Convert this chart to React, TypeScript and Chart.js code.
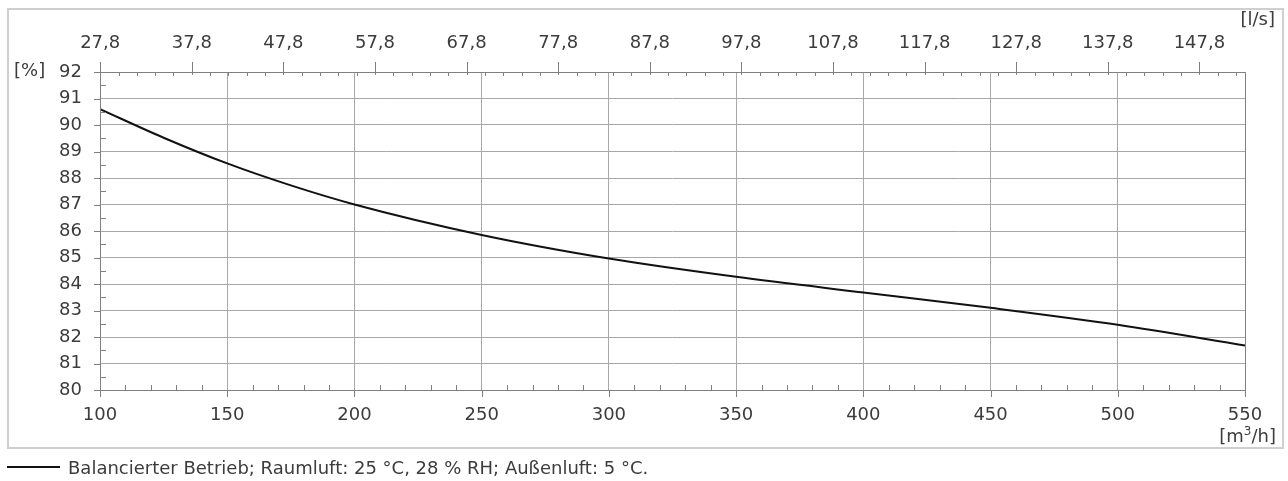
import React, { useEffect, useRef } from "react";
import { Chart, registerables } from "chart.js";

Chart.register(...registerables);

// Data
const flowM3h = [100, 125, 150, 175, 200, 250, 300, 350, 400, 450, 500, 550];
const efficiency = [90.6, 89.52, 88.55, 87.72, 87.0, 85.85, 84.96, 84.27, 83.68, 83.1, 82.46, 81.68];
const xTicks = [100, 150, 200, 250, 300, 350, 400, 450, 500, 550];
const yTicks = [80, 81, 82, 83, 84, 85, 86, 87, 88, 89, 90, 91, 92];
const topTicks = [27.8, 37.8, 47.8, 57.8, 67.8, 77.8, 87.8, 97.8, 107.8, 117.8, 127.8, 137.8, 147.8];
const legendLabel = "Balancierter Betrieb; Raumluft: 25 °C, 28 % RH; Außenluft: 5 °C.";

const FONT = "'DejaVu Sans', 'Open Sans', sans-serif";
const TEXT = "#3c3c3c";

const tickPlugin = {
  id: "customTicks",
  afterDraw(chart: any) {
    const ctx = chart.ctx;
    const { left, right, top, bottom } = chart.chartArea;
    const xs = chart.scales.x;
    const ys = chart.scales.y;
    const x2 = chart.scales.x2;
    const r = (v: number) => Math.round(v) + 0.5;
    ctx.save();
    ctx.strokeStyle = "#808080";
    ctx.lineWidth = 1;
    ctx.beginPath();
    ctx.rect(r(left), r(top), Math.round(right) - Math.round(left), Math.round(bottom) - Math.round(top));
    xTicks.forEach((v) => {
      const p = r(xs.getPixelForValue(v));
      ctx.moveTo(p, bottom);
      ctx.lineTo(p, bottom + 7);
    });
    for (let v = 110; v < 550; v += 10) {
      if (v % 50 === 0) continue;
      const p = r(xs.getPixelForValue(v));
      ctx.moveTo(p, bottom - 5);
      ctx.lineTo(p, bottom);
    }
    yTicks.forEach((v) => {
      const p = r(ys.getPixelForValue(v));
      ctx.moveTo(left - 6, p);
      ctx.lineTo(left, p);
    });
    for (let v = 80.5; v < 92; v += 1) {
      const p = r(ys.getPixelForValue(v));
      ctx.moveTo(left, p);
      ctx.lineTo(left + 6, p);
    }
    topTicks.forEach((v) => {
      const p = r(x2.getPixelForValue(v));
      ctx.moveTo(p, top - 10);
      ctx.lineTo(p, top + 3);
    });
    for (let i = 0; i < 70; i++) {
      const v = 27.8 + i * 2;
      if (v > x2.max) break;
      if (i % 5 === 0) continue;
      const p = r(x2.getPixelForValue(v));
      ctx.moveTo(p, top);
      ctx.lineTo(p, top + 4);
    }
    ctx.stroke();
    ctx.restore();
  },
};

export default function App() {
  const ref = useRef<HTMLCanvasElement>(null);

  useEffect(() => {
    if (!ref.current) return;
    const chart = new Chart(ref.current, {
      type: "line",
      data: {
        datasets: [
          {
            label: legendLabel,
            data: flowM3h.map((x, i) => ({ x, y: efficiency[i] })),
            borderColor: "#111",
            borderWidth: 2,
            pointRadius: 0,
            fill: false,
            cubicInterpolationMode: "monotone",
          },
        ],
      },
      options: {
        animation: false,
        responsive: false,
        devicePixelRatio: 1,
        layout: { padding: { left: 0, right: 43, top: 0, bottom: 0 } },
        plugins: { legend: { display: false }, tooltip: { enabled: false } },
        scales: {
          x: {
            type: "linear",
            position: "bottom",
            min: 100,
            max: 550,
            afterBuildTicks: (s: any) => {
              s.ticks = xTicks.map((v) => ({ value: v }));
            },
            afterFit: (s: any) => {
              s.height = 91;
            },
            grid: { color: "#a8a8a8", drawTicks: false, lineWidth: 1 },
            border: { display: false },
            ticks: {
              padding: 15,
              color: TEXT,
              font: { family: FONT, size: 18 },
              maxRotation: 0,
              autoSkip: false,
            },
          },
          x2: {
            type: "linear",
            position: "top",
            min: 100 / 3.6,
            max: 550 / 3.6,
            afterBuildTicks: (s: any) => {
              s.ticks = topTicks.map((v) => ({ value: v }));
            },
            afterFit: (s: any) => {
              s.height = 72;
            },
            grid: { display: false, drawTicks: false },
            border: { display: false },
            ticks: {
              padding: 18,
              color: TEXT,
              font: { family: FONT, size: 18 },
              maxRotation: 0,
              autoSkip: false,
              callback: (v: any) => Number(v).toFixed(1).replace(".", ","),
            },
          },
          y: {
            type: "linear",
            position: "left",
            min: 80,
            max: 92,
            afterBuildTicks: (s: any) => {
              s.ticks = yTicks.map((v) => ({ value: v }));
            },
            afterFit: (s: any) => {
              s.width = 100;
            },
            grid: { color: "#a8a8a8", drawTicks: false, lineWidth: 1 },
            border: { display: false },
            ticks: {
              padding: 18,
              color: TEXT,
              font: { family: FONT, size: 18 },
              autoSkip: false,
            },
          },
        },
      },
      plugins: [tickPlugin],
    } as any);
    return () => chart.destroy();
  }, []);

  return (
    <div style={{ position: "fixed", left: 0, top: 0, width: 1288, height: 481, background: "#fff", fontFamily: FONT, color: TEXT }}>
      <div
        style={{
          position: "absolute",
          left: 7,
          top: 8,
          width: 1277,
          height: 441,
          border: "2px solid #cfcfcf",
          boxSizing: "border-box",
        }}
      />
      <canvas ref={ref} width={1288} height={481} style={{ position: "absolute", left: 0, top: 0, width: 1288, height: 481 }} />
      <div style={{ position: "absolute", left: 14, top: 59, fontSize: 18, lineHeight: "22px" }}>[%]</div>
      <div style={{ position: "absolute", right: 1288 - 1275, top: 8, fontSize: 18, lineHeight: "22px" }}>[l/s]</div>
      <div style={{ position: "absolute", right: 1288 - 1276, top: 425, fontSize: 18, lineHeight: "22px" }}>
        [m<sup style={{ fontSize: 12, verticalAlign: "top", lineHeight: "14px", position: "relative", top: -1 }}>3</sup>/h]
      </div>
      <div style={{ position: "absolute", left: 7, top: 466, width: 53, height: 2, background: "#111" }} />
      <div style={{ position: "absolute", left: 68, top: 457, fontSize: 18, lineHeight: "21px", whiteSpace: "nowrap" }}>{legendLabel}</div>
    </div>
  );
}
